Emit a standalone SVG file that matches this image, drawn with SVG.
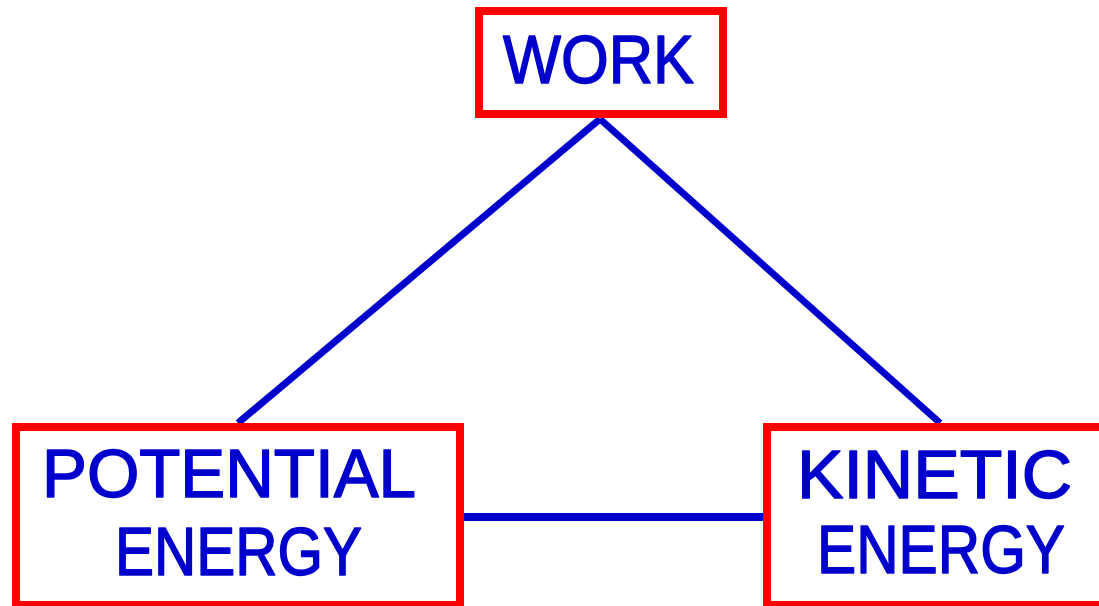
<svg xmlns="http://www.w3.org/2000/svg" width="1099" height="606" viewBox="0 0 1099 606">
<style>
.box{fill:#fff;stroke:#FF0000;stroke-width:8}
.lbl{font-family:"Comic Sans MS","Liberation Sans",Arial,sans-serif;font-size:68px;fill:#0000CC;stroke:#0000CC;stroke-width:1.5;stroke-linejoin:round}
.conn{stroke:#0000CC;stroke-width:7;fill:none}
</style>
<rect width="1099" height="606" fill="#fff"/>
<g id="connectors">
<line class="conn" x1="600" y1="119" x2="238" y2="423"/>
<line class="conn" x1="600" y1="119" x2="940" y2="423"/>
<line class="conn" x1="462" y1="517" x2="765" y2="517" style="stroke-width:8"/>
</g>
<g id="work">
<rect class="box" x="479" y="11" width="244" height="103"/>
<text class="lbl" x="503" y="83" textLength="191" lengthAdjust="spacingAndGlyphs">WORK</text>
</g>
<g id="potential">
<rect class="box" x="16" y="427" width="444" height="178"/>
<text class="lbl" x="42" y="497" textLength="374" lengthAdjust="spacingAndGlyphs">POTENTIAL</text>
<text class="lbl" x="115" y="575" textLength="247" lengthAdjust="spacingAndGlyphs">ENERGY</text>
</g>
<g id="kinetic">
<rect class="box" x="767" y="427" width="336" height="178"/>
<text class="lbl" x="797" y="498" textLength="275" lengthAdjust="spacingAndGlyphs">KINETIC</text>
<text class="lbl" x="817" y="573" textLength="248" lengthAdjust="spacingAndGlyphs">ENERGY</text>
</g>
</svg>
